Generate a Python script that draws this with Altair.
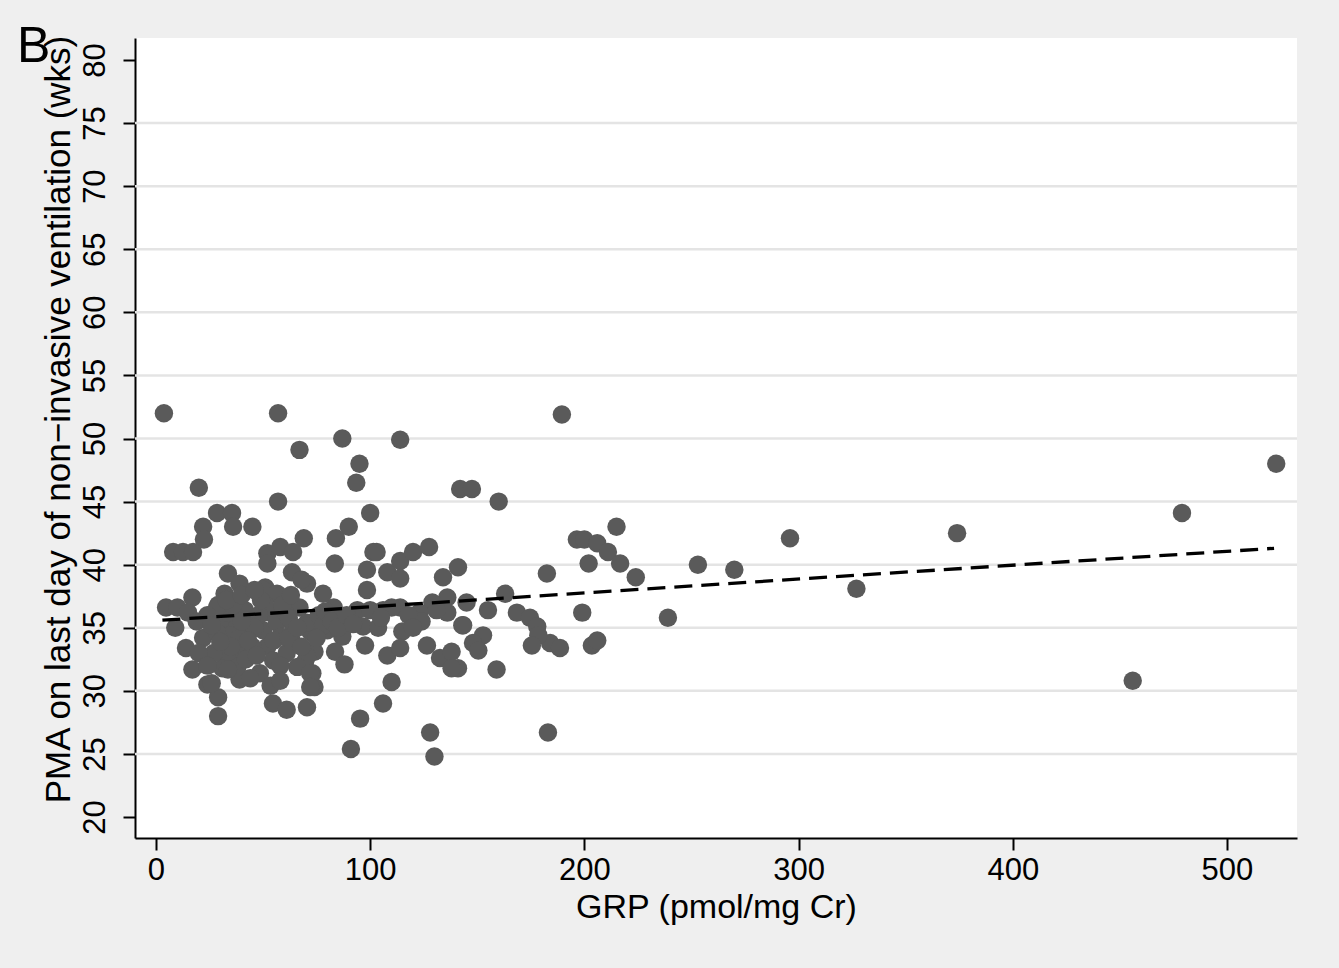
import altair as alt
import pandas as pd

# GRP (pmol/mg Cr) and PMA (wks)
grp = [
    3.7, 57, 189.5, 87, 114, 67, 95, 93.5, 20, 142, 147.5, 57, 160, 523, 479, 374, 296, 327, 456, 239, 253, 270,
    196.5, 200, 215, 206, 211, 216.7, 224, 202, 182.5, 199, 203.5, 206, 184, 188.6, 183,
    163, 145, 155, 168.5, 174.6, 178, 178.5, 175.5, 143.4, 152.7, 148, 150.5, 159, 141,
    28.5, 35.5, 22, 36, 45, 22.4, 8, 12.6, 17.3, 69, 52, 58, 64, 52, 33.6, 39, 63.5, 70.5, 32, 51, 57, 68, 17, 4.7,
    10, 29, 15, 9,
    90, 84, 100, 101.5, 103, 83.5, 98.5, 108, 114, 120, 127.5, 114, 134, 141, 98.5, 78, 136, 129,
    83, 94, 106, 114, 123, 136, 124, 143, 80, 72, 87, 96.7, 103.7, 115, 131, 100, 110,
    97.6, 108, 114, 83.6, 88, 74, 69.6, 73, 74, 126.5, 132.6, 138, 138, 110, 106, 95.3, 70.5, 91, 128, 130,
    14, 17, 24, 29, 29, 22, 48.5, 53.5, 54.6, 61, 39, 50, 56.5, 67, 53, 44, 31, 38, 34.6, 28.5, 39, 44, 50, 56.5,
    64, 70.5, 58, 64, 52, 38, 33, 38, 31, 54.7, 61, 70.5, 66, 72, 72, 41.5, 33.7, 51, 28.5, 24,
    45, 48, 60, 42, 58, 46, 35, 62, 27, 20, 19, 76, 78, 26, 33.6,
    26, 30, 36, 40, 43, 47, 49, 55, 59, 62, 66, 68, 75, 79, 82, 85, 89, 92, 105, 118, 120, 33, 40, 46, 24, 58, 44, 63,
]
pma = [
    52.0, 52.0, 51.9, 50.0, 49.9, 49.1, 48.0, 46.5, 46.1, 46.0, 46.0, 45.0, 45.0, 48.0, 44.1, 42.5, 42.1, 38.1, 30.8, 35.8, 40.0, 39.6,
    42.0, 42.0, 43.0, 41.7, 41.0, 40.1, 39.0, 40.1, 39.3, 36.2, 33.6, 34.0, 33.8, 33.4, 26.7,
    37.7, 37.0, 36.4, 36.2, 35.8, 35.1, 34.4, 33.6, 35.2, 34.4, 33.8, 33.2, 31.7, 31.8,
    44.1, 44.1, 43.0, 43.0, 43.0, 42.0, 41.0, 41.0, 41.0, 42.1, 40.9, 41.4, 41.0, 40.1, 39.3, 38.5, 39.4, 38.5, 37.7, 38.2, 37.6, 38.8, 37.4, 36.6,
    36.6, 36.8, 36.2, 35.0,
    43.0, 42.1, 44.1, 41.0, 41.0, 40.1, 39.6, 39.4, 40.3, 41.0, 41.4, 38.9, 39.0, 39.8, 38.0, 37.7, 37.4, 37.0,
    36.6, 36.4, 36.4, 36.6, 36.2, 36.2, 35.5, 35.2, 34.8, 34.7, 34.3, 35.1, 35.0, 34.7, 36.4, 36.4, 36.6,
    33.6, 32.8, 33.4, 33.1, 32.1, 33.1, 32.3, 31.4, 30.3, 33.6, 32.6, 33.1, 31.8, 30.7, 29.0, 27.8, 28.7, 25.4, 26.7, 24.8,
    33.4, 31.7, 30.5, 29.5, 28.0, 34.2, 31.4, 30.4, 29.0, 28.5, 30.9, 38.0, 37.7, 36.6, 36.2, 35.9, 35.6, 35.1, 34.4, 34.6, 34.2, 34.8, 34.8, 35.4,
    34.8, 35.4, 34.3, 33.8, 33.5, 33.2, 32.7, 31.9, 31.8, 32.4, 33.0, 32.7, 31.9, 31.4, 30.3, 36.4, 36.2, 36.8, 36.6, 36.0,
    33.5, 36.0, 36.3, 32.5, 32.0, 35.0, 33.5, 35.8, 33.0, 33.0, 35.5, 36.0, 35.2, 30.6, 31.7,
    35.2, 33.9, 36.8, 35.5, 34.0, 32.8, 37.2, 34.0, 36.8, 34.2, 35.0, 33.5, 34.2, 36.3, 35.5, 35.0, 36.0, 35.3, 35.8, 36.0, 35.0, 37.2, 37.6, 38.0, 32.0, 30.8, 31.0, 37.6,
]

# fitted (dashed) line end points
fit_x = [3, 522]
fit_y = [35.6, 41.3]

x_ticks = [0, 100, 200, 300, 400, 500]
y_ticks = [20, 25, 30, 35, 40, 45, 50, 55, 60, 65, 70, 75, 80]
grid_vals = [25, 30, 35, 40, 45, 50, 55, 60, 65, 70, 75]
panel_label = ["B"]

df = pd.DataFrame({"grp": grp, "pma": pma})
fit = pd.DataFrame({"grp": fit_x, "pma": fit_y})
grid = pd.DataFrame({"pma": grid_vals})
lab = pd.DataFrame({"t": panel_label})

FONT = "Liberation Sans"
xs = alt.Scale(domain=[-9.8, 532.7], nice=False, zero=False)
ys = alt.Scale(domain=[18.34, 81.74], nice=False, zero=False)

grid_layer = alt.Chart(grid).mark_rule(color="#e4e4e4", strokeWidth=2.5).encode(
    y=alt.Y("pma:Q", scale=ys)
)

pts = alt.Chart(df).mark_circle(size=340, color="#5a5a5a", opacity=1).encode(
    x=alt.X(
        "grp:Q",
        scale=xs,
        axis=alt.Axis(
            values=x_ticks,
            title="GRP (pmol/mg Cr)",
            labelPadding=5,
            titlePadding=5,
            labelFlush=False,
            grid=False,
        ),
    ),
    y=alt.Y(
        "pma:Q",
        scale=ys,
        axis=alt.Axis(
            values=y_ticks,
            title="PMA on last day of non\u2212invasive ventilation (wks)",
            titleFontSize=35,
            labelAngle=270,
            labelAlign="center",
            labelBaseline="bottom",
            labelPadding=12,
            labelOverlap=False,
            titleX=-77,
            titleY=381,
            titleBaseline="middle",
            grid=False,
        ),
    ),
)

fit_layer = alt.Chart(fit).mark_line(color="black", strokeDash=[18, 9], strokeWidth=3.3).encode(
    x=alt.X("grp:Q", scale=xs),
    y=alt.Y("pma:Q", scale=ys),
)

label_layer = alt.Chart(lab).mark_text(
    font=FONT, fontSize=50, color="black", align="left", baseline="alphabetic"
).encode(text="t:N", x=alt.value(-118), y=alt.value(24))

chart = (
    alt.layer(grid_layer, pts, fit_layer, label_layer)
    .properties(
        width=1162,
        height=800,
        autosize=alt.AutoSizeParams(type="none"),
        padding={"left": 135, "top": 38, "right": 42, "bottom": 130},
        background="#efefef",
    )
    .configure_view(fill="white", strokeWidth=0)
    .configure_axis(
        domainColor="black",
        domainWidth=2,
        tickColor="black",
        tickWidth=2,
        tickSize=12,
        labelFont=FONT,
        labelFontSize=31,
        labelColor="black",
        titleFont=FONT,
        titleFontSize=34,
        titleFontWeight="normal",
        titleColor="black",
    )
)

chart.save("out.html", embed_options={"renderer": "svg", "actions": False})
